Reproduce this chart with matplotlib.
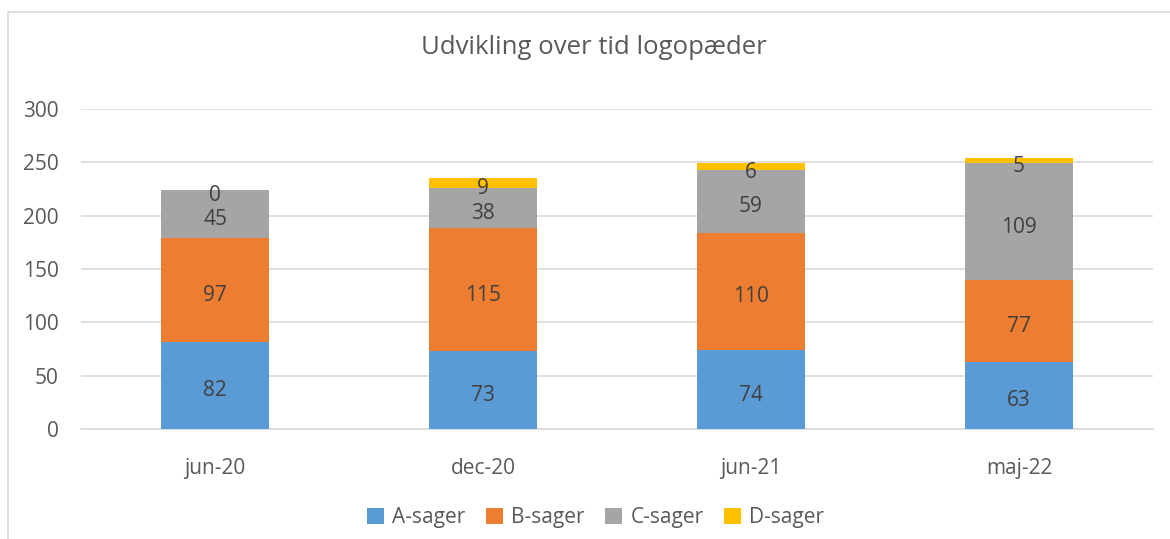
import matplotlib.pyplot as plt
import matplotlib.patches as patches
import numpy as np

periods = ['jun-20', 'dec-20', 'jun-21', 'maj-22']
a_sager = [82, 73, 74, 63]
b_sager = [97, 115, 110, 77]
c_sager = [45, 38, 59, 109]
d_sager = [0, 9, 6, 5]

series = [('A-sager', a_sager, '#5B9BD5'),
          ('B-sager', b_sager, '#ED7D31'),
          ('C-sager', c_sager, '#A5A5A5'),
          ('D-sager', d_sager, '#FFC000')]

plt.rcParams['font.family'] = ['Open Sans', 'DejaVu Sans']
txt = '#595959'

fig = plt.figure(figsize=(11.7, 5.39), dpi=100)
# chart frame, open to the right and bottom like the cropped original
fig.add_artist(patches.Rectangle((8 / 1170, -0.05), 1.2, 1 - 12 / 539 + 0.05,
                                 transform=fig.transFigure, fill=False,
                                 edgecolor='#D9D9D9', linewidth=1.2))
ax = fig.add_axes([81 / 1170, 110 / 539, 1072 / 1170, 320 / 539])

x = np.arange(len(periods))
bottom = np.zeros(len(periods))
for name, vals, color in series:
    vals = np.array(vals, dtype=float)
    bars = ax.bar(x, vals, 0.4, bottom=bottom, color=color, label=name, zorder=3)
    for bar, v, b in zip(bars, vals, bottom):
        ax.annotate(str(int(v)), (bar.get_x() + bar.get_width() / 2, b + v / 2),
                    xytext=(0, -4), textcoords='offset points',
                    ha='center', va='center', fontsize=15, color='#404040', zorder=4)
    bottom += vals

ax.set_xlim(-0.5, len(periods) - 0.5)
ax.set_ylim(0, 300)
ax.set_yticks(range(0, 301, 50))
ax.set_xticks(x)
ax.set_xticklabels(periods)
ax.yaxis.grid(True, color='#D9D9D9', linewidth=1.2, zorder=0)
for s in ['top', 'right', 'left']:
    ax.spines[s].set_visible(False)
ax.spines['bottom'].set_color('#D9D9D9')
ax.spines['bottom'].set_linewidth(1.2)
ax.tick_params(axis='both', length=0, labelsize=15, colors=txt)
ax.tick_params(axis='x', pad=21)
ax.tick_params(axis='y', pad=16)

fig.text(0.508, 0.912, 'Udvikling over tid logopæder', ha='center', va='center',
         fontsize=18.5, color=txt)
ax.legend(loc='center', bbox_to_anchor=(0.48, -0.278), ncol=4, frameon=False,
          fontsize=15, labelcolor=txt, handlelength=0.8, handleheight=0.8,
          handletextpad=0.4, columnspacing=1.0)

fig.savefig('out.png', dpi=100)
